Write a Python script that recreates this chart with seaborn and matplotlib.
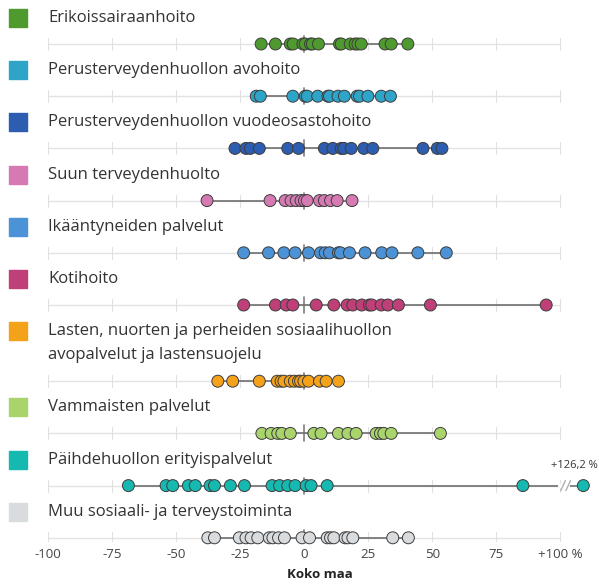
import pandas as pd
import seaborn as sns
import matplotlib.pyplot as plt
from matplotlib.transforms import blended_transform_factory

# Muutos (%) per ryhmä, luettu kuvasta
groups = [
    "Erikoissairaanhoito",
    "Perusterveydenhuollon avohoito",
    "Perusterveydenhuollon vuodeosastohoito",
    "Suun terveydenhuolto",
    "Ikääntyneiden palvelut",
    "Kotihoito",
    "Lasten, nuorten ja perheiden sosiaalihuollon\navopalvelut ja lastensuojelu",
    "Vammaisten palvelut",
    "Päihdehuollon erityispalvelut",
    "Muu sosiaali- ja terveystoiminta",
]
colors = ["#4e9a2e", "#2ea4c9", "#2d5db0", "#d67ab4", "#4c92d6",
          "#bf3f78", "#f5a21b", "#a9d46b", "#15b9b0", "#d9dcdf"]

erikoissairaanhoito = [-16.8, -11.2, -5.4, -4.3, -0.5, 0.4, 2.5, 3.2, 5.6, 13.8,
                       14.5, 18.0, 19.9, 21.0, 22.3, 31.6, 34.0, 40.5]
avohoito = [-18.7, -17.1, -4.4, 0.4, 1.2, 5.3, 9.3, 9.9, 13.2, 15.7, 20.7, 21.6,
            24.9, 30.1, 33.7]
vuodeosasto = [-27.0, -22.7, -21.0, -17.5, -6.4, -2.2, 7.9, 11.2, 14.5, 15.5,
               18.4, 23.3, 26.8, 46.4, 52.0, 53.8]
suun = [-37.9, -13.3, -7.4, -5.1, -3.1, -1.2, 0.1, 1.2, 6.0, 7.9, 10.3, 12.9, 18.7]
ikaantyneet = [-23.6, -13.9, -7.9, -3.5, 1.7, 6.4, 8.2, 9.9, 13.4, 14.2, 17.7,
               23.8, 30.3, 34.3, 44.4, 55.5]
kotihoito = [-23.6, -11.2, -7.0, -4.4, 4.7, 11.6, 16.8, 19.0, 22.5, 25.5, 26.4,
             30.1, 32.7, 36.8, 49.3, 94.5]
lasten = [-33.7, -27.9, -17.5, -10.5, -9.0, -7.9, -5.4, -3.8, -2.2, -1.4, -0.1,
          1.7, 6.0, 8.6, 13.4]
vammaisten = [-16.5, -12.9, -10.3, -8.7, -5.4, 3.8, 6.6, 13.4, 17.1, 20.3, 28.1,
              29.8, 31.1, 34.0, 53.2]
paihde = [-68.6, -53.9, -51.3, -45.2, -42.5, -36.7, -35.0, -28.8, -23.3, -12.5,
          -9.6, -6.4, -3.5, 0.8, 2.7, 9.0, 85.4, 126.2]
muu = [-37.6, -35.0, -25.3, -22.7, -20.7, -18.1, -13.6, -12.2, -10.0, -7.7, -0.8,
       2.1, 9.0, 10.3, 11.6, 16.0, 17.1, 19.0, 34.6, 40.7]

values = [erikoissairaanhoito, avohoito, vuodeosasto, suun, ikaantyneet,
          kotihoito, lasten, vammaisten, paihde, muu]

tick_values = [-100, -75, -50, -25, 0, 25, 50, 75, 100]
tick_labels = ["-100", "-75", "-50", "-25", "0", "25", "50", "75", "+100 %"]

# akselin katko: yli 100 % arvot piirretään tähän kohtaan
BREAK_POS = 109

# rivien sijainnit (pikseleinä ylhäältä)
label_y, dot_y = [], []
y = 18
for g in groups:
    n = g.count("\n") + 1
    label_y.append(y)
    dot_y.append(y + 26 + 24 * (n - 1))
    y += 52.2 + 24 * (n - 1)

rows = []
for g, vals, yy in zip(groups, values, dot_y):
    for v in vals:
        rows.append({"ryhma": g, "muutos": v,
                     "x": v if v <= 100 else BREAK_POS, "y": yy})
df = pd.DataFrame(rows)

sns.set_style("white")
plt.rcParams["font.family"] = "Open Sans"

fig = plt.figure(figsize=(5.99, 5.84), dpi=100)
ax = fig.add_axes([48 / 599, 1 - 542 / 584, 543 / 599, 542 / 584])
ax.set_xlim(-100, 112)
ax.set_ylim(542, 0)

trans = blended_transform_factory(ax.transAxes, ax.transData)

for g, c, vals, ly, dy in zip(groups, colors, values, label_y, dot_y):
    # otsikko ja värineliö
    ax.scatter([-30 / 543], [ly], marker="s", s=150, color=c, transform=trans,
               clip_on=False, zorder=3)
    for i, line in enumerate(g.split("\n")):
        ax.text(0, ly + 24 * i, line, transform=trans, va="center", ha="left",
                fontsize=12, color="#333333")
    # taustaviiva ja apuviivat
    ax.plot([-100, 100], [dy, dy], color="#e3e3e3", lw=1, zorder=1)
    for t in tick_values:
        ax.plot([t, t], [dy - 6, dy + 6], color="#e0e0e0", lw=0.8, zorder=1)
    ax.plot([0, 0], [dy - 8, dy + 8], color="#8a8a8a", lw=1.3, zorder=2)
    shown = [v if v <= 100 else BREAK_POS for v in vals]
    ax.plot([min(shown), max(shown)], [dy, dy], color="#6f6f6f", lw=1.2, zorder=2)
    if max(vals) > 100:
        ax.plot([100, 103], [dy, dy], color="white", lw=3, zorder=2.5)
        for off in (100.2, 102.2):
            ax.plot([off, off + 1.8], [dy + 5, dy - 5], color="#b0b0b0", lw=1,
                    zorder=2.6)
        big = max(vals)
        ax.text(BREAK_POS + 5.8, dy - 20, "+" + f"{big:.1f}".replace(".", ",") + " %",
                ha="right", va="center", fontsize=8, color="#333333")

sns.scatterplot(data=df, x="x", y="y", hue="ryhma", palette=dict(zip(groups, colors)),
                s=74, edgecolor="#3d3d3d", linewidth=0.7, legend=False, ax=ax,
                zorder=4)
for coll in ax.collections:
    coll.set_clip_on(False)

for s in ax.spines.values():
    s.set_visible(False)
ax.set_yticks([])
ax.set_ylabel("")
ax.set_xticks(tick_values)
ax.set_xticklabels(tick_labels)
ax.tick_params(axis="x", length=0, pad=4, labelsize=9.5, labelcolor="#444444")
ax.set_xlabel("Koko maa", fontsize=9.5, fontweight="bold", color="#222222",
              labelpad=5)

fig.savefig("out.png", dpi=100)
